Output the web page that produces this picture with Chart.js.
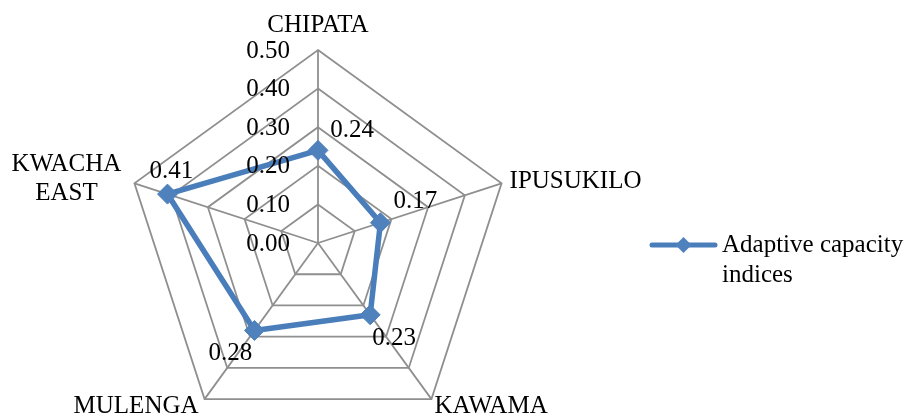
<!DOCTYPE html>
<html><head><meta charset="utf-8">
<script src="https://cdn.jsdelivr.net/npm/chart.js@4"></script>
<style>html,body{margin:0;padding:0;overflow:hidden;background:#fff}#wrap{position:relative;width:905px;height:486px}</style>
</head><body><div id="wrap"><canvas id="c"></canvas></div>
<script>
const categories = ['CHIPATA', 'IPUSUKILO', 'KAWAMA', 'MULENGA', ['KWACHA', 'EAST']];
const values = [0.24, 0.17, 0.23, 0.28, 0.41];
const tickLabels = ['0.00', '0.10', '0.20', '0.30', '0.40', '0.50'];
const valueLabels = ['0.24', '0.17', '0.23', '0.28', '0.41'];
const seriesName = ['Adaptive capacity', 'indices'];

const FONT = '25px "Liberation Serif", "Times New Roman", serif';
const LINE = '#4A7EBB';
const MARK = '#4F81BD';
const GRID = '#8f8f8f';

// label placement styles (offsets in px)
const catStyle = [
  {dx: 0, dy: -25, align: 'center'},
  {dx: 8, dy: -2, align: 'left'},
  {dx: 3, dy: 7, align: 'left'},
  {dx: -6, dy: 7, align: 'right'},
  {dx: -68, dy: -4, align: 'center'}
];
const valStyle = [[34, -20], [35, -21], [24, 24], [-24, 23], [4, -23]];

const customPlugin = {
  id: 'custom',
  afterDatasetsDraw(chart) {
    const ctx = chart.ctx, s = chart.scales.r;
    ctx.save();
    ctx.font = FONT;
    ctx.fillStyle = '#000';
    ctx.textBaseline = 'middle';
    // tick labels
    ctx.textAlign = 'right';
    s.ticks.forEach((t, i) => {
      const p = s.getPointPositionForValue(0, t.value);
      ctx.fillText(tickLabels[i], s.xCenter - 28, p.y + 1);
    });
    // category labels
    categories.forEach((c, i) => {
      const p = s.getPointPosition(i, s.drawingArea);
      const st = catStyle[i];
      ctx.textAlign = st.align;
      const lines = Array.isArray(c) ? c : [c];
      const lh = 29;
      lines.forEach((ln, k) => {
        const y = p.y + st.dy + (k - (lines.length - 1) / 2) * lh;
        ctx.fillText(ln, p.x + st.dx, y);
      });
    });
    // value labels
    ctx.textAlign = 'center';
    values.forEach((v, i) => {
      const p = s.getPointPositionForValue(i, v);
      ctx.fillText(valueLabels[i], p.x + valStyle[i][0], p.y + valStyle[i][1]);
    });
    // legend
    const lx1 = 652, lx2 = 715, ly = 245;
    ctx.strokeStyle = LINE; ctx.lineWidth = 5; ctx.lineCap = 'round';
    ctx.beginPath(); ctx.moveTo(lx1, ly); ctx.lineTo(lx2, ly); ctx.stroke();
    const mx = (lx1 + lx2) / 2, r = 8;
    ctx.fillStyle = MARK;
    ctx.beginPath(); ctx.moveTo(mx, ly - r); ctx.lineTo(mx + r, ly); ctx.lineTo(mx, ly + r); ctx.lineTo(mx - r, ly); ctx.closePath(); ctx.fill();
    ctx.fillStyle = '#000';
    ctx.textAlign = 'left';
    seriesName.forEach((ln, k) => ctx.fillText(ln, 722, ly + k * 30));
    ctx.restore();
  }
};

new Chart(document.getElementById('c'), {
  type: 'radar',
  data: {
    labels: categories,
    datasets: [{
      label: seriesName.join(' '),
      data: values,
      borderColor: LINE,
      backgroundColor: 'rgba(0,0,0,0)',
      borderWidth: 5.5,
      fill: false,
      pointStyle: 'rectRot',
      pointRadius: 10,
      pointHoverRadius: 10,
      pointBackgroundColor: MARK,
      pointBorderColor: MARK,
      pointBorderWidth: 1
    }]
  },
  options: {
    responsive: true,
    maintainAspectRatio: false,
    animation: false,
    layout: {padding: {left: 125, right: 394, top: 50, bottom: 50}},
    plugins: {legend: {display: false}, tooltip: {enabled: false}},
    scales: {
      r: {
        min: 0, max: 0.5,
        ticks: {stepSize: 0.1, display: false},
        grid: {color: GRID, lineWidth: 1.8},
        angleLines: {color: GRID, lineWidth: 1.8},
        pointLabels: {display: false}
      }
    }
  },
  plugins: [customPlugin]
});
</script>
</body></html>
